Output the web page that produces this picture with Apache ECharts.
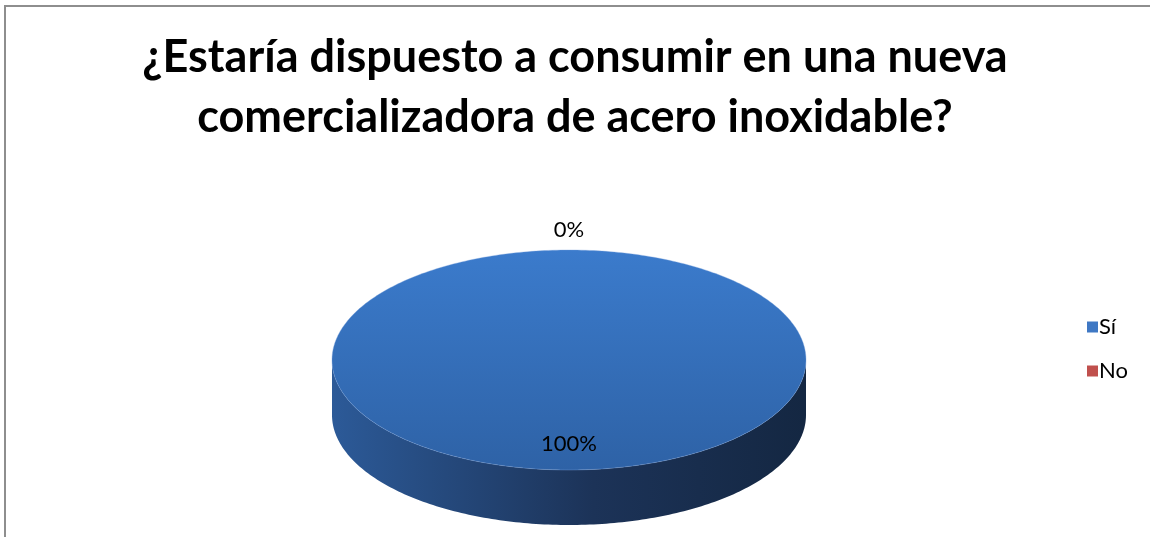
<!DOCTYPE html>
<html>
<head>
<meta charset="utf-8">
<script src="https://cdn.jsdelivr.net/npm/echarts@6/dist/echarts.min.js"></script>
<style>
  html, body { margin: 0; padding: 0; background: #fff; }
  #chart { width: 1150px; height: 537px; }
</style>
</head>
<body>
<div id="chart"></div>
<script>
// Survey answers and their shares (percent)
const categories = ['Sí', 'No'];
const shares = [100, 0];
const titleLines = ['¿Estaría dispuesto a consumir en una nueva', 'comercializadora de acero inoxidable?'];

// Slice palette: top face gradient stops, side band gradient stops
const palettes = [
  { top: ['#3b7bcc', '#2e62a6'], side: ['#2c5a98', '#1c3358', '#142742'], legend: '#3f78c4' },
  { top: ['#d0504c', '#a83a37'], side: ['#9a3330', '#6a2220', '#4e1816'], legend: '#c0504d' }
];

// Pie geometry (3D look: squashed ellipse plus a front band)
const PIE = { cx: 569, cy: 360, rx: 237, ry: 110, depth: 55 };

const total = shares.reduce((a, b) => a + b, 0);
const startAngles = [];
let acc = 0;
shares.forEach(v => { startAngles.push(acc / total * Math.PI * 2); acc += v; });

function pt(a, dy) {
  // angle measured clockwise from 12 o'clock
  return [PIE.cx + PIE.rx * Math.sin(a), PIE.cy - PIE.ry * Math.cos(a) + (dy || 0)];
}

function arcPoints(a0, a1, dy) {
  const pts = [];
  const n = Math.max(2, Math.ceil(Math.abs(a1 - a0) / (Math.PI / 180)));
  for (let i = 0; i <= n; i++) pts.push(pt(a0 + (a1 - a0) * i / n, dy));
  return pts;
}

function renderSlice(idx) {
  return function (params, api) {
    const value = shares[idx];
    const pal = palettes[idx];
    const a0 = startAngles[idx];
    const a1 = a0 + value / total * Math.PI * 2;
    const children = [];
    if (value > 0) {
      // front band: visible where the angle lies between 90° and 270°
      const s0 = Math.max(a0, Math.PI / 2);
      const s1 = Math.min(a1, Math.PI * 1.5);
      if (s1 > s0) {
        const upper = arcPoints(s0, s1, 0);
        const lower = arcPoints(s1, s0, PIE.depth);
        children.push({
          type: 'polygon',
          shape: { points: upper.concat(lower) },
          style: {
            fill: new echarts.graphic.LinearGradient(0, 0, 1, 0, [
              { offset: 0, color: pal.side[0] },
              { offset: 0.55, color: pal.side[1] },
              { offset: 1, color: pal.side[2] }
            ])
          }
        });
      }
      // top face
      const full = value >= total;
      const topPts = full ? arcPoints(0, Math.PI * 2, 0)
                          : [[PIE.cx, PIE.cy]].concat(arcPoints(a0, a1, 0));
      children.push({
        type: 'polygon',
        shape: { points: topPts },
        style: {
          fill: new echarts.graphic.LinearGradient(0, 0, 0, 1, [
            { offset: 0, color: pal.top[0] },
            { offset: 1, color: pal.top[1] }
          ]),
          stroke: 'rgba(120,160,220,0.35)',
          lineWidth: 1
        }
      });
    }
    // data label: inside for a real slice, outside when the slice is empty
    const mid = (a0 + a1) / 2;
    let lp;
    if (value > 0) {
      lp = [PIE.cx + PIE.rx * 0.76 * Math.sin(mid), PIE.cy - PIE.ry * 0.76 * Math.cos(mid)];
    } else {
      lp = [PIE.cx + (PIE.rx + 20) * Math.sin(mid), PIE.cy - (PIE.ry + 20) * Math.cos(mid)];
    }
    children.push({
      type: 'text',
      x: lp[0], y: lp[1],
      style: {
        text: Math.round(value / total * 100) + '%',
        fill: '#000', font: '22px Lato, "Open Sans", sans-serif',
        align: 'center', verticalAlign: 'middle'
      },
      z2: 10
    });
    return { type: 'group', children: children };
  };
}

const chart = echarts.init(document.getElementById('chart'), null, { renderer: 'canvas' });

const series = categories.map((name, i) => ({
  name: name,
  type: 'custom',
  coordinateSystem: 'none',
  data: [shares[i]],
  renderItem: renderSlice(i),
  itemStyle: { color: palettes[i].legend },
  z: i === 0 ? 2 : 1,
  silent: true
}));

chart.setOption({
  animation: false,
  backgroundColor: '#ffffff',
  title: {
    text: titleLines.join('\n'),
    left: 'center',
    top: 22,
    textStyle: {
      fontFamily: 'Lato, "Open Sans", sans-serif',
      fontWeight: 'bold',
      fontSize: 45,
      lineHeight: 60,
      color: '#000'
    }
  },
  legend: {
    orient: 'vertical',
    left: 1082,
    top: 311,
    itemWidth: 11,
    itemHeight: 11,
    itemGap: 22,
    icon: 'rect',
    data: categories,
    textStyle: { fontFamily: 'Lato, "Open Sans", sans-serif', fontSize: 22, color: '#000', padding: [0, 0, 0, -4] }
  },
  graphic: [{
    type: 'rect',
    shape: { x: 5, y: 6, width: 1200, height: 600 },
    style: { fill: 'none', stroke: '#8e8e8e', lineWidth: 2 },
    silent: true
  }],
  series: series
});
</script>
</body>
</html>
